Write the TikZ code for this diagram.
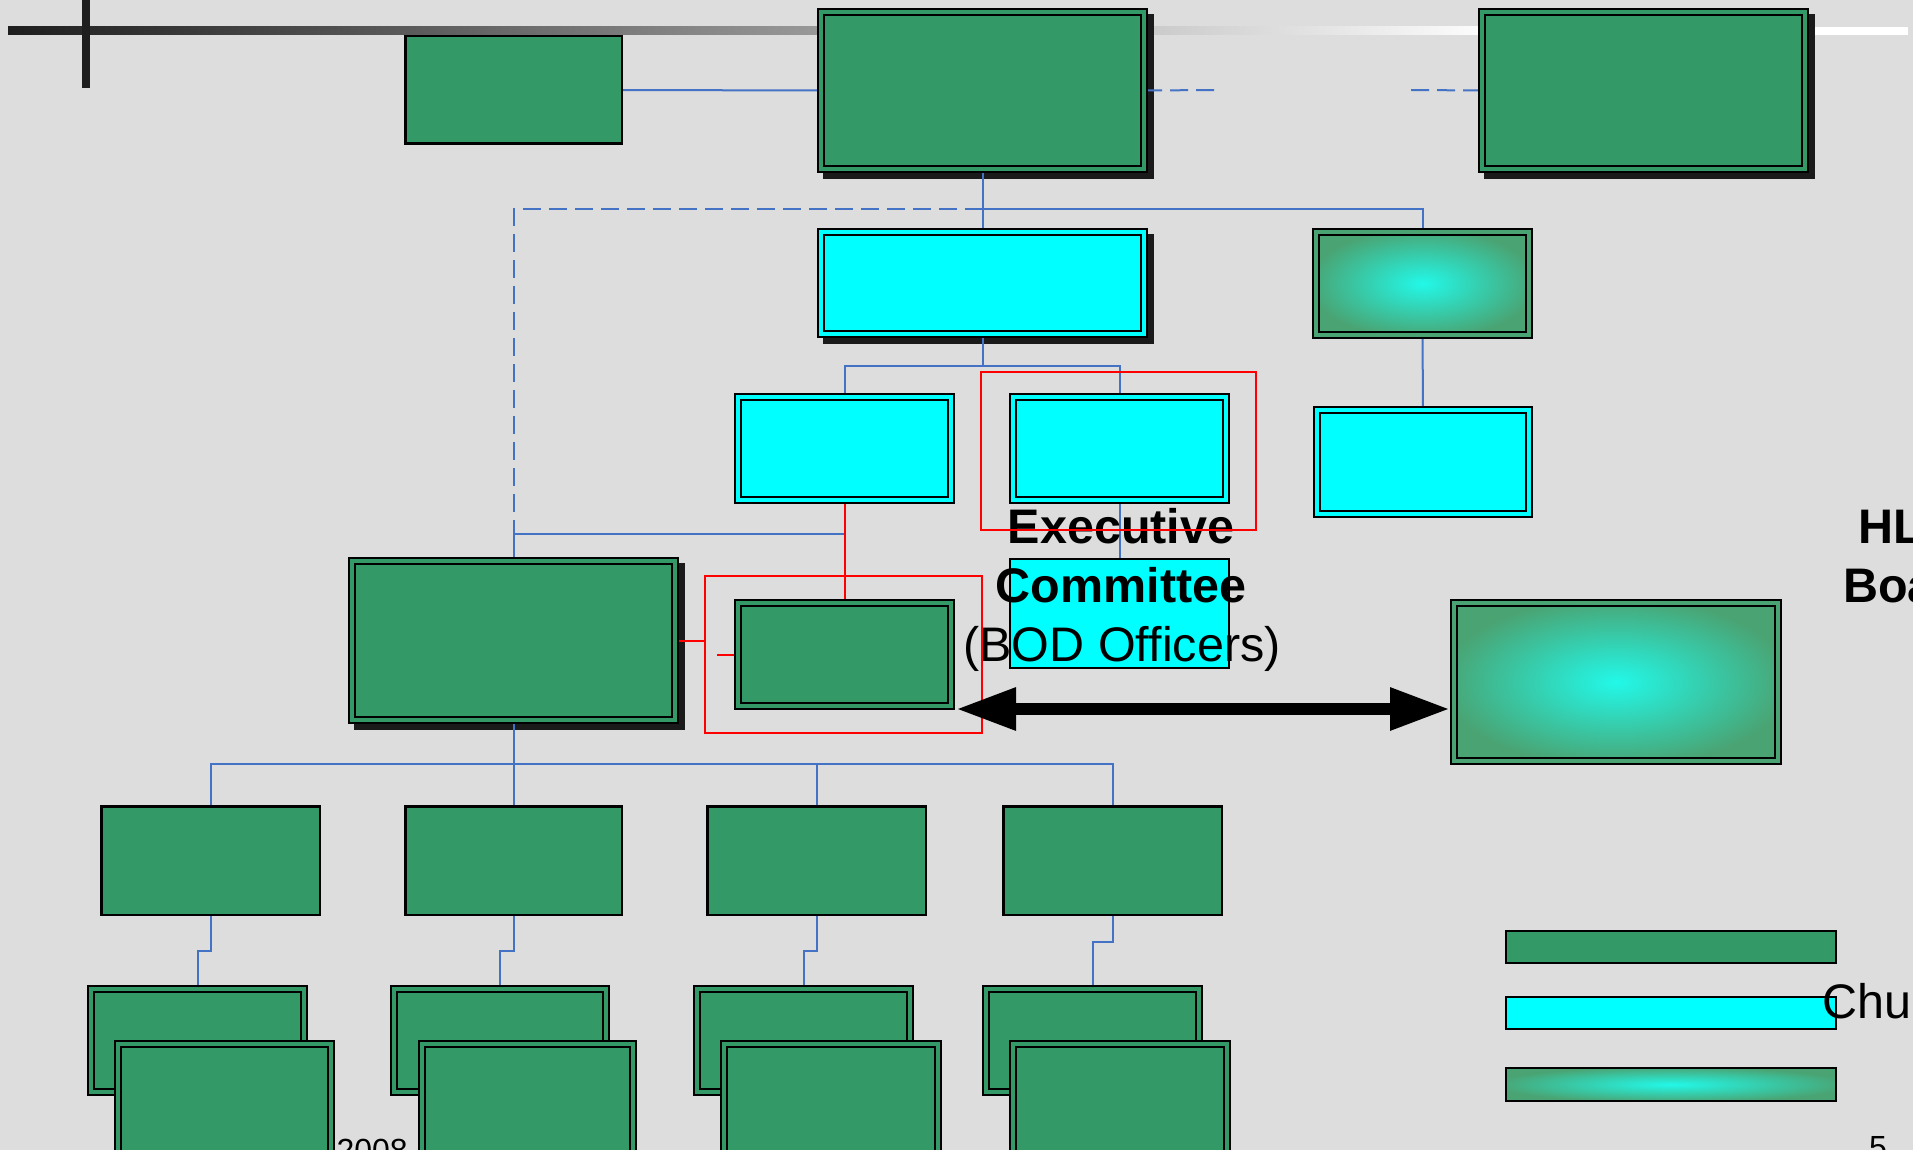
\documentclass[tikz,border=0pt]{standalone}
\usepackage{fontspec}
\setmainfont{Liberation Sans}
\usetikzlibrary{arrows.meta,calc}
\definecolor{bgc}{HTML}{DDDDDD}
\definecolor{boxg}{HTML}{339966}
\definecolor{boxc}{HTML}{00FFFF}
\definecolor{linkb}{HTML}{4472C4}
\definecolor{shadowc}{HTML}{1A1A1A}
\definecolor{lineL}{HTML}{1E1E1E}
\definecolor{gcenter}{HTML}{22F8E8}
\definecolor{gedge}{HTML}{4AA372}
\pgfdeclarelayer{back}
\pgfdeclarelayer{bg}
\pgfsetlayers{back,bg,main}
\pgfdeclareradialshading{glow}{\pgfpoint{0bp}{0bp}}{color(0bp)=(gcenter); color(27bp)=(gedge); color(50bp)=(gedge)}
% name, style, inset, x1, y1, x2, y2 (outer edges, pixels)
\newcommand\abox[7]{\node[#2, inner sep=0pt, outer sep=0pt,
  minimum width={(#6-#4-2*#3)*1pt}, minimum height={(#7-#5-2*#3)*1pt}]
  (#1) at ({(#4+#6)/2},{(#5+#7)/2}) {};}
\begin{document}
\begin{tikzpicture}[x=1pt,y=-1pt,
  single/.style={draw=black, line width=2.5pt},
  thinbox/.style={draw=black, line width=2pt},
  dbl/.style={draw=black, line width=2.2pt, double distance=3.6pt},
  gdbl/.style={dbl, fill=boxg, double=boxg},
  cdbl/.style={dbl, fill=boxc, double=boxc},
  glowdbl/.style={dbl, shade, shading=glow, double=gedge},
  conn/.style={draw=linkb, line width=2pt},
  dconn/.style={conn, dash pattern=on 18pt off 8pt},
  rconn/.style={draw=red, line width=2pt},
  frame/.style={draw=red, line width=2pt},
  bigarrow/.style={line width=12pt, >={Triangle[length=60pt,width=40pt]}, <->},
  bigb/.style={font=\fontsize{48.5}{58}\selectfont\bfseries, inner sep=0pt},
  bigr/.style={font=\fontsize{48.5}{58}\selectfont, inner sep=0pt},
  smallt/.style={font=\fontsize{32}{38}\selectfont, inner sep=0pt}
]
\useasboundingbox (0,0) rectangle (1913,1150);
\begin{pgfonlayer}{back}
  \fill[bgc] (0,0) rectangle (1913,1150);
\end{pgfonlayer}

% boxes
\abox{B1}{single,fill=boxg}{1.25}{404}{35}{623}{145}
\abox{B2}{gdbl}{4}{817}{8}{1148}{173}
\abox{B3}{gdbl}{4}{1478}{8}{1809}{173}
\abox{B4}{cdbl}{4}{817}{228}{1148}{338}
\abox{B5}{glowdbl}{4}{1312}{228}{1533}{339}
\abox{B6}{cdbl}{4}{734}{393}{955}{504}
\abox{B7}{cdbl}{4}{1009}{393}{1230}{504}
\abox{B8}{cdbl}{4}{1313}{406}{1533}{518}
\abox{B9}{thinbox,fill=boxc}{1}{1009}{558}{1230}{669}
\abox{B10}{gdbl}{4}{348}{557}{679}{724}
\abox{B11}{gdbl}{4}{734}{599}{955}{710}
\abox{B12}{glowdbl}{4}{1450}{599}{1782}{765}

\abox{B13a}{single,fill=boxg}{1.25}{100}{805}{321}{916}
\abox{B13b}{single,fill=boxg}{1.25}{404}{805}{623}{916}
\abox{B13c}{single,fill=boxg}{1.25}{706}{805}{927}{916}
\abox{B13d}{single,fill=boxg}{1.25}{1002}{805}{1223}{916}

\abox{B14a}{gdbl}{4}{87}{985}{308}{1096}
\abox{B14b}{gdbl}{4}{390}{985}{610}{1096}
\abox{B14c}{gdbl}{4}{693}{985}{914}{1096}
\abox{B14d}{gdbl}{4}{982}{985}{1203}{1096}
\abox{B15a}{gdbl}{4}{114}{1040}{335}{1158}
\abox{B15b}{gdbl}{4}{418}{1040}{637}{1158}
\abox{B15c}{gdbl}{4}{720}{1040}{942}{1158}
\abox{B15d}{gdbl}{4}{1009}{1040}{1231}{1158}

% legend bars
\abox{L1}{thinbox,fill=boxg}{1}{1505}{930}{1837}{964}
\abox{L2}{thinbox,fill=boxc}{1}{1505}{996}{1837}{1030}
\abox{L3}{thinbox,shade,shading=glow}{1}{1505}{1067}{1837}{1102}

% texts
\node[bigb, anchor=base] (t1) at (1121,543) {Executive};
\node[bigb, anchor=base] (t2) at (1121,602) {Committee};
\node[bigr, anchor=base] (t3) at (1122,661) {(BOD Officers)};
\node[bigb, anchor=base west] (t4) at (1858,543) {HL};
\node[bigb, anchor=base west] (t5) at (1843,602) {Boa};
\node[bigr, anchor=base west] (t6) at (1822,1018) {Chu};
\node[smallt, anchor=base west] (t8) at (1869,1158) {5};

% red frames
\abox{R1}{frame}{1}{980}{371}{1257}{531}
\abox{R2}{frame}{1}{704}{575}{983}{734}

% coordinates
\coordinate (jA) at (982.5,209);
\coordinate (jB) at (513.5,534);
\coordinate (jC) at (982.5,366);
\coordinate (jD) at (513.5,764);
\coordinate (dA) at (1217,90);
\coordinate (dB) at (1411,90);
\coordinate (rA) at (705,647);
\coordinate (rB) at (717,654.5);
\coordinate (aL) at (956,709);
\coordinate (aR) at (1450,709);

\draw[bigarrow] (aL) -- (aR);

\begin{pgfonlayer}{bg}
  % top rule
  \fill[left color=lineL, right color=white] (8,27) rectangle (1500,35);
  \fill[white] (1499,27) rectangle (1908,35);
  \fill[lineL] (82,0) rectangle (90,88);
  % shadows
  \fill[shadowc] (823,14) rectangle (1154,179);
  \fill[shadowc] (1484,14) rectangle (1815,179);
  \fill[shadowc] (823,234) rectangle (1154,344);
  \fill[shadowc] (354,563) rectangle (685,730);
  % footer text
  \node[smallt, anchor=base east] (t7) at (408,1161) {2008};
  % blue connectors
  \draw[conn] (B1.east) -- (B2.west);
  \draw[dconn] (B2.east) -- (dA);
  \draw[dconn] (dB) -- (B3.west);
  \draw[conn] (B2.south) -- (B4.north);
  \draw[conn] (jA) -| (B5.north);
  \draw[dconn] (jA) -| (jB);
  \draw[conn] (B4.south) -- (jC) -| (B6.north);
  \draw[conn] (jC) -| (B7.north);
  \draw[conn] (B6.south) |- (jB) -- (B10.north);
  \draw[conn] (B7.south) -- (B9.north);
  \draw[conn] (B5.south) -- (B8.north);
  \draw[conn] (B10.south) -- (jD);
  \draw[conn] (jD) -| (B13a.north);
  \draw[conn] (jD) -| (B13b.north);
  \draw[conn] (jD) -| (B13c.north);
  \draw[conn] (jD) -| (B13d.north);
  \draw[conn] (B13a.south) -- ++(0,36) -| (B14a.north);
  \draw[conn] (B13b.south) -- ++(0,36) -| (B14b.north);
  \draw[conn] (B13c.south) -- ++(0,36) -| (B14c.north);
  \draw[conn] (B13d.south) -- ++(0,27) -| (B14d.north);
  % red connectors
  \draw[rconn] (B6.south) -- (B11.north);
  \draw[rconn] (B10.east) -| (rA);
  \draw[rconn] (rB) -- (B11.west);
\end{pgfonlayer}
\end{tikzpicture}
\end{document}
